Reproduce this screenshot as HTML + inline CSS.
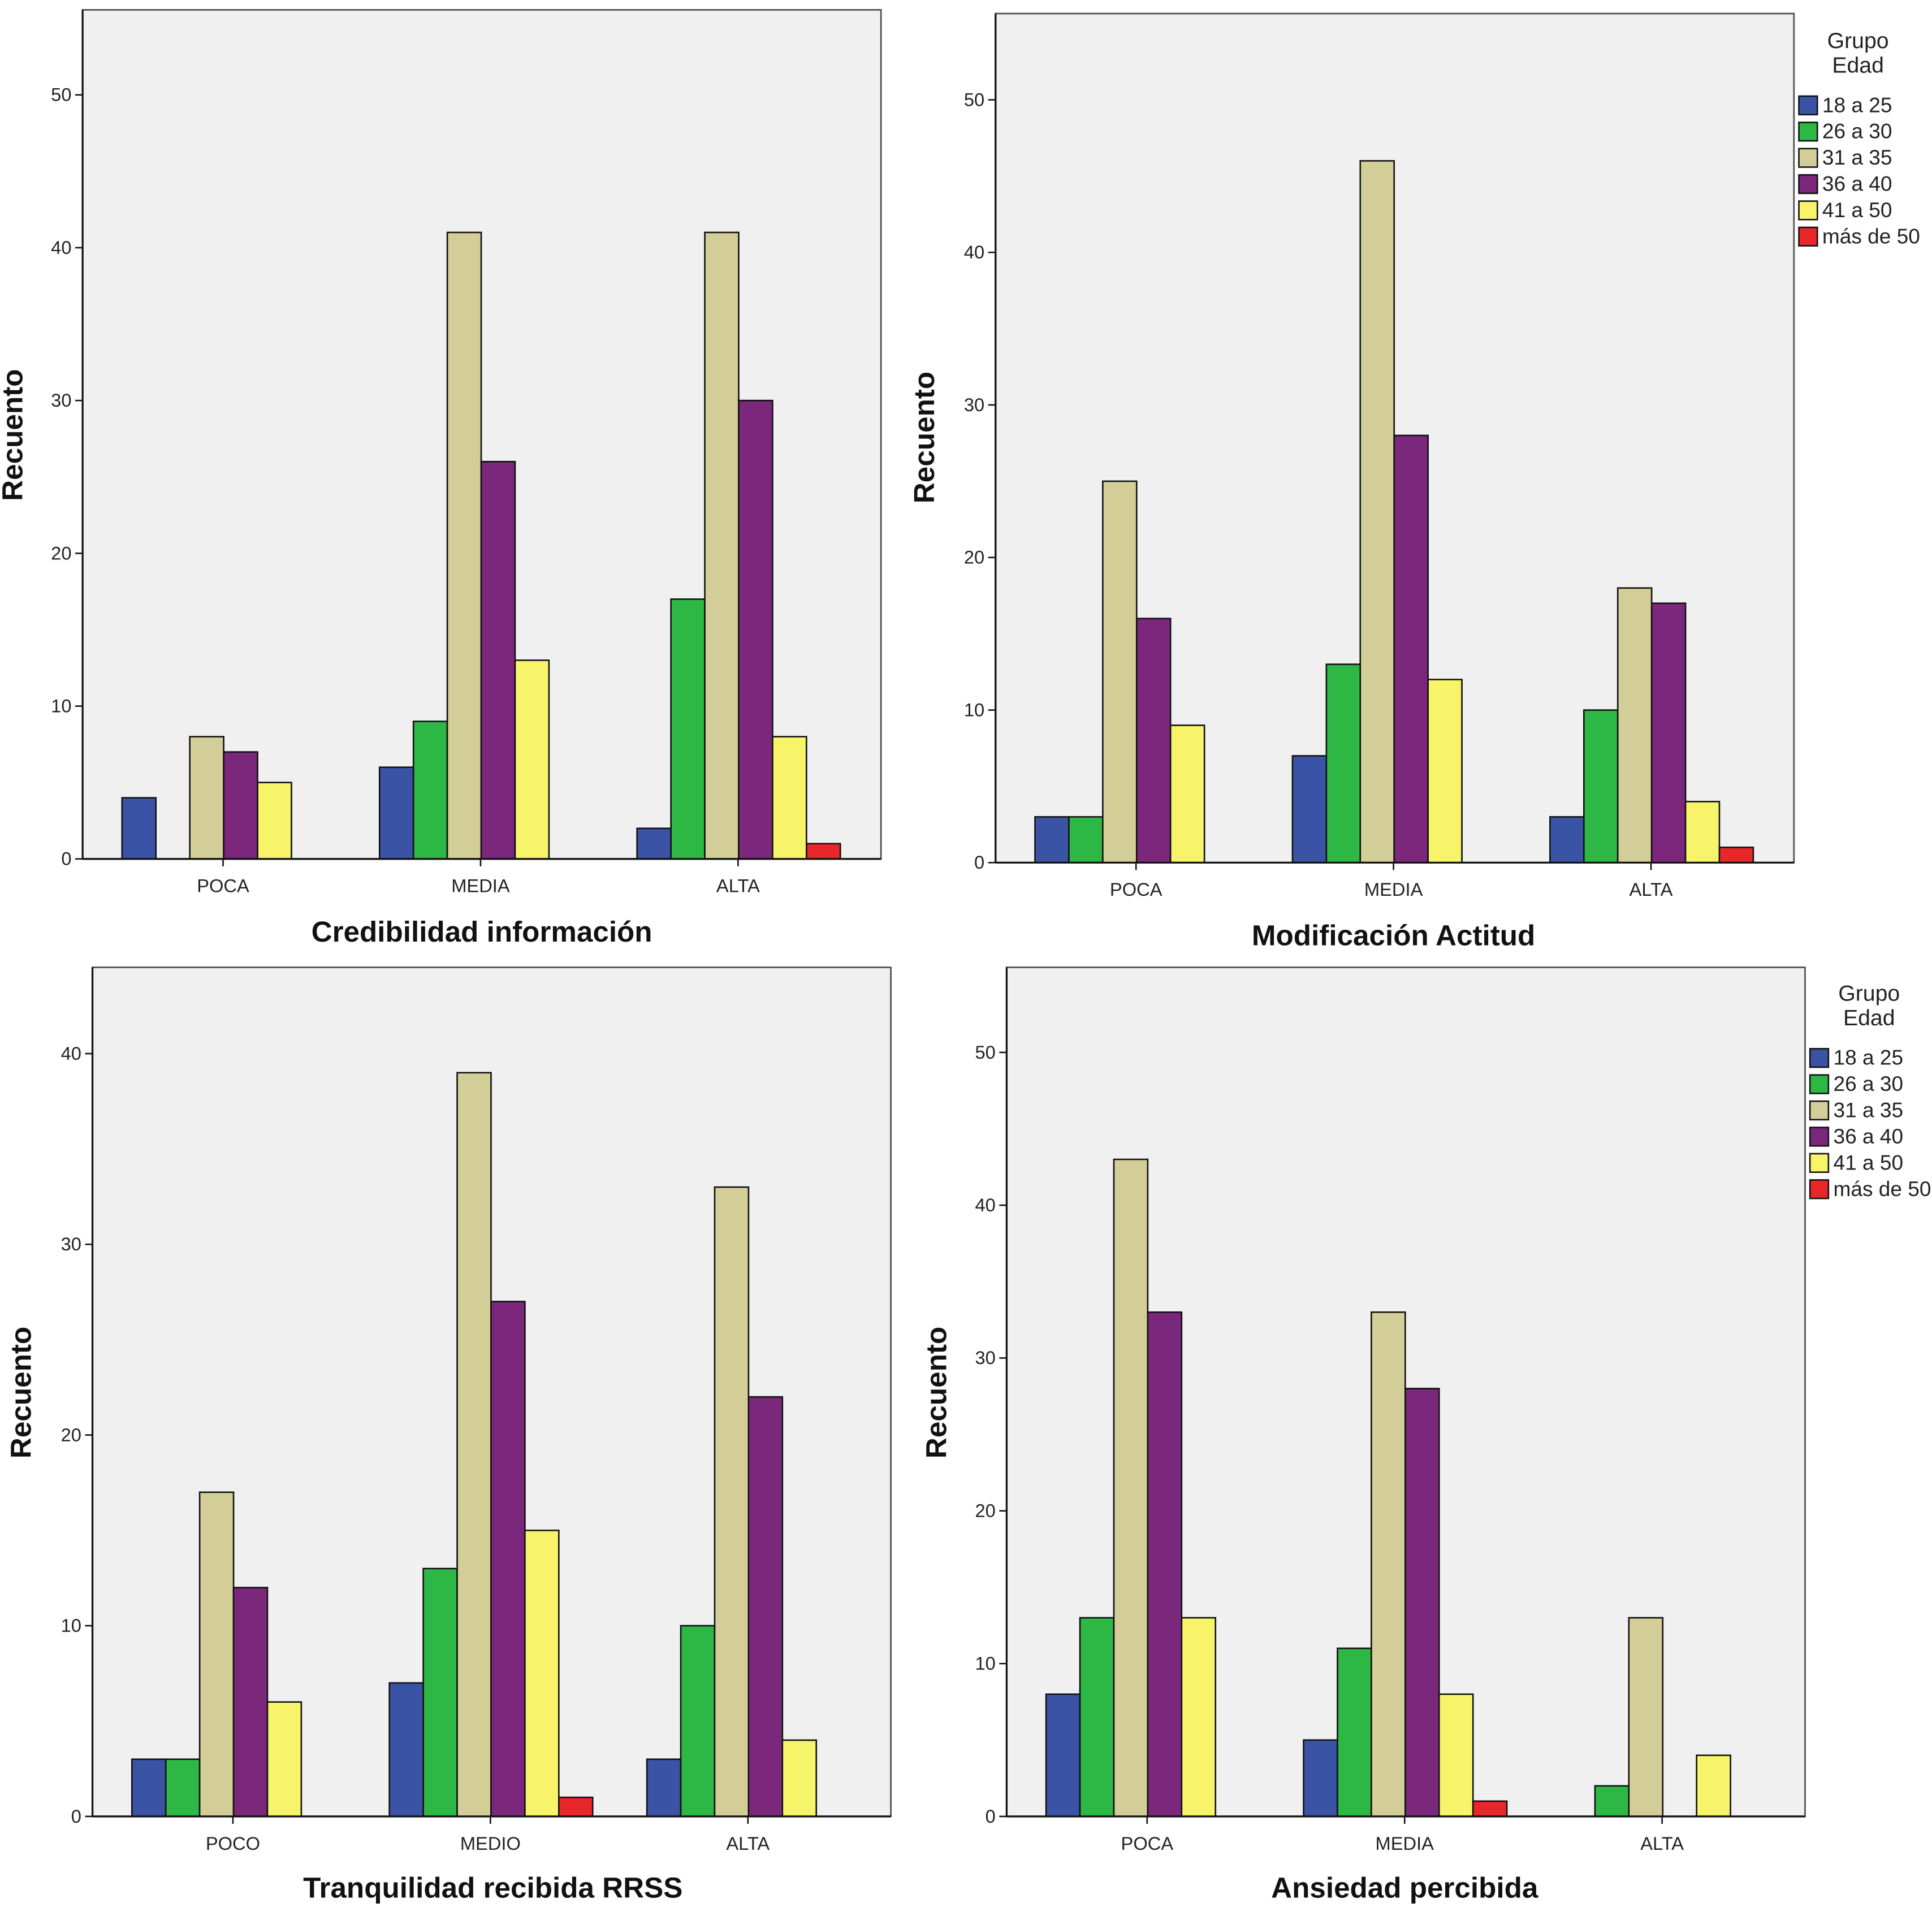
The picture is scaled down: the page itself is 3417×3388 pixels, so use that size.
<!DOCTYPE html>
<html><head><meta charset="utf-8"><style>
html,body{margin:0;padding:0;background:#fff;}
svg{display:block;font-family:"Liberation Sans",sans-serif;}
</style></head><body>
<svg id="root" width="3417" height="3388" viewBox="0 0 1568 1554.8" xmlns="http://www.w3.org/2000/svg"></svg>
<script>
const seriesNames = ["18 a 25","26 a 30","31 a 35","36 a 40","41 a 50","más de 50"];
const seriesColors = ["#3a53a4","#2db744","#d3ce97","#7b277c","#f8f46a","#e8272a"];
const credCats = ["POCA","MEDIA","ALTA"];
const credVals = [[4,0,8,7,5,0],[6,9,41,26,13,0],[2,17,41,30,8,1]];
const modCats = ["POCA","MEDIA","ALTA"];
const modVals = [[3,3,25,16,9,0],[7,13,46,28,12,0],[3,10,18,17,4,1]];
const tranqCats = ["POCO","MEDIO","ALTA"];
const tranqVals = [[3,3,17,12,6,0],[7,13,39,27,15,1],[3,10,33,22,4,0]];
const ansCats = ["POCA","MEDIA","ALTA"];
const ansVals = [[8,13,43,33,13,0],[5,11,33,28,8,1],[0,2,13,0,4,0]];
const ticks50 = [0,10,20,30,40,50];
const ticks40 = [0,10,20,30,40];

const NS="http://www.w3.org/2000/svg";
const root=document.getElementById('root');
function mk(tag,attrs,parent,text){const e=document.createElementNS(NS,tag);for(const k in attrs)e.setAttribute(k,attrs[k]);if(text!==undefined)e.textContent=text;(parent||root).appendChild(e);return e;}

function chart(cfg){
  const g=mk('g',{});
  
  
  const {x0,x1,yTop,yZero,ppu}=cfg;
  const yS=v=>yZero-v*ppu;
  const bg=mk('rect',{x:x0,y:yTop,width:x1-x0,height:yZero-yTop,fill:'#f0f0f0',stroke:'#555','stroke-width':1.3},g);
  
  
  const bw=27.5;
  cfg.cats.forEach((c,i)=>{
    const cx=x0+114+i*209;
    cfg.vals[i].forEach((v,j)=>{
      if(v<=0)return;
      const r=mk('rect',{x:cx-3*bw+j*bw+0.5,y:yS(v),width:bw,height:v*ppu,fill:seriesColors[j],stroke:'#111','stroke-width':1.2},g);
      
      
    });
    mk('line',{x1:cx,x2:cx,y1:yZero,y2:yZero+6,stroke:'#111','stroke-width':1.2},g);
    const t=mk('text',{x:cx,y:yZero+27,'text-anchor':'middle','font-size':15,fill:'#222'},g,c);
    
    
  });
  mk('line',{x1:x0,x2:x0,y1:yTop,y2:yZero,stroke:'#111','stroke-width':1.5},g);
  mk('line',{x1:x0,x2:x1,y1:yZero,y2:yZero,stroke:'#111','stroke-width':1.5},g);
  cfg.ticks.forEach(v=>{
    mk('line',{x1:x0-6,x2:x0,y1:yS(v),y2:yS(v),stroke:'#111','stroke-width':1.2},g);
    const t=mk('text',{x:x0-9,y:yS(v)+5,'text-anchor':'end','font-size':15,fill:'#222'},g,String(v));
    
    
  });
  const yl=mk('text',{x:0,y:0,transform:`translate(${cfg.ylx},${cfg.yly}) rotate(-90)`,'text-anchor':'middle','font-size':23.5,'font-weight':'bold',fill:'#111'},g,'Recuento');
  
  
  const xt=mk('text',{x:cfg.tx,y:cfg.ty,'text-anchor':'middle','font-size':23.5,'font-weight':'bold',fill:'#111'},g,cfg.title);
  
  
  if(cfg.legend){
    const L=cfg.legend;
    const lg=mk('g',{},g);
    
    
    mk('text',{x:L.x+48,y:L.y,'text-anchor':'middle','font-size':18,fill:'#222'},lg,'Grupo');
    mk('text',{x:L.x+48,y:L.y+20,'text-anchor':'middle','font-size':18,fill:'#222'},lg,'Edad');
    seriesNames.forEach((n,j)=>{
      const yy=L.y+52+j*21.3;
      const e=mk('g',{},lg);
      
      
      mk('rect',{x:L.x,y:yy-13,width:15,height:15,fill:seriesColors[j],stroke:'#111','stroke-width':1.2},e);
      mk('text',{x:L.x+19,y:yy,'font-size':17,fill:'#222'},e,n);
    });
  }
}
chart({name:'chart-credibilidad',x0:67,x1:715,yTop:8,yZero:697,ppu:12.4,ticks:ticks50,cats:credCats,vals:credVals,ylx:18,yly:353,tx:391,ty:764,title:'Credibilidad información'});
chart({name:'chart-modificacion',x0:808,x1:1456,yTop:11,yZero:700,ppu:12.38,ticks:ticks50,cats:modCats,vals:modVals,ylx:758,yly:355,tx:1131,ty:767,title:'Modificación Actitud',legend:{x:1460,y:39}});
chart({name:'chart-tranquilidad',x0:75,x1:723,yTop:785,yZero:1474,ppu:15.475,ticks:ticks40,cats:tranqCats,vals:tranqVals,ylx:25,yly:1130,tx:400,ty:1540,title:'Tranquilidad recibida RRSS'});
chart({name:'chart-ansiedad',x0:817,x1:1465,yTop:785,yZero:1474,ppu:12.4,ticks:ticks50,cats:ansCats,vals:ansVals,ylx:768,yly:1130,tx:1140,ty:1540,title:'Ansiedad percibida',legend:{x:1469,y:812}});
</script>
</body></html>
